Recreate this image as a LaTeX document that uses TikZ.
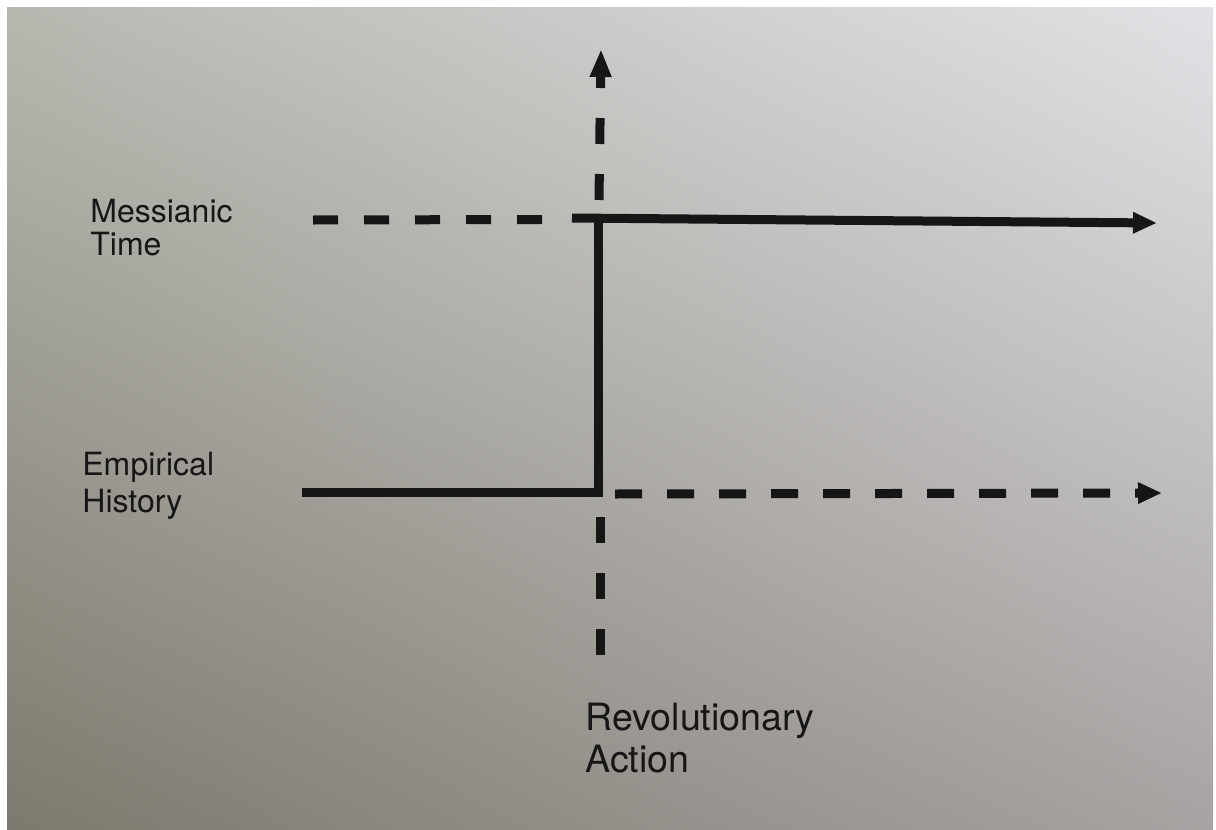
\documentclass[tikz,border=0pt]{standalone}
\usepackage{fontspec}
\setmainfont{TeX Gyre Heros}
\usetikzlibrary{arrows.meta,shadings}
\definecolor{ink}{RGB}{22,22,22}
\definecolor{paperTL}{RGB}{182,184,176}
\definecolor{paperTR}{RGB}{226,226,230}
\definecolor{paperBL}{RGB}{126,121,110}
\definecolor{paperBR}{RGB}{168,163,162}
\begin{document}
\begin{tikzpicture}[x=0.5pt,y=-0.5pt,
  stroke/.style={draw=ink,line width=4.5pt,line join=miter},
  dashA/.style={stroke,dash pattern=on 12.5pt off 13pt},
  dashV/.style={stroke,dash pattern=on 13pt off 15pt},
  dashB/.style={stroke,dash pattern=on 13.5pt off 12.5pt},
  tipV/.style={-{Triangle[length=14pt,width=10pt]}},
  tipH/.style={-{Triangle[length=12pt,width=10pt]}},
  label/.style={inner sep=0pt,align=left,text=ink,font=\fontsize{16}{16.5}\selectfont}
]
\useasboundingbox (0,0) rectangle (1216,830);
\fill[white] (0,0) rectangle (1216,830);
\shade[upper left=paperTL,upper right=paperTR,lower left=paperBL,lower right=paperBR]
  (7,7) rectangle (1213,830);

% coordinates
\coordinate (topTip) at (601,49);
\coordinate (vTopStart) at (599,200);
\coordinate (mDashStart) at (313,220);
\coordinate (mDashEnd) at (545,219.5);
\coordinate (mSolidStart) at (572,218);
\coordinate (mTip) at (1157,223);
\coordinate (eStart) at (302,492);
\coordinate (corner) at (598,492);
\coordinate (junction) at (598,216);
\coordinate (vBotStart) at (600,517);
\coordinate (vBotEnd) at (600,657);
\coordinate (eDashStart) at (615,494);
\coordinate (eTip) at (1162,493);

% Messianic time
\draw[dashA] (mDashStart) -- (mDashEnd);
\draw[stroke,tipH] (mSolidStart) -- (mTip);
% Empirical history and revolutionary jump
\draw[stroke] (eStart) -- (corner) -- (junction);
\draw[dashB,tipH] (eDashStart) -- (eTip);
% Revolutionary action axis
\draw[dashV,tipV] (vTopStart) -- (topTip);
\draw[dashV] (vBotStart) -- (vBotEnd);

% labels
\node[label,anchor=north west] (messianic) at (90,199) {Messianic\\Time};
\node[label,anchor=north west,font=\fontsize{16}{18.5}\selectfont] (empirical) at (82,452) {Empirical\\History};
\node[label,anchor=north west,font=\fontsize{18.8}{21}\selectfont] (revolution) at (585,703) {Revolutionary\\Action};
\end{tikzpicture}
\end{document}
